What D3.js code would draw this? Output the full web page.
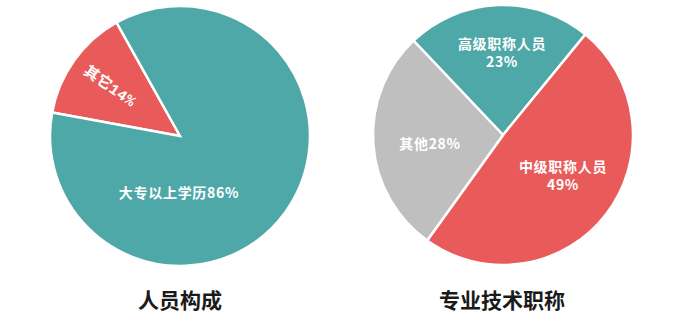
<!DOCTYPE html>
<html>
<head>
<meta charset="utf-8">
<script src="https://cdn.jsdelivr.net/npm/d3@7"></script>
<style>
    body { margin: 0; background: #fff; }
    svg { display: block; }
    .title { font-family: "Noto Sans CJK SC", sans-serif; font-weight: 700; font-size: 21px; fill: #1a1a1a; }
    .slice-label { font-family: "Noto Sans CJK SC", sans-serif; font-weight: 700; font-size: 14px; fill: #fff; letter-spacing: 0.7px; }
    .odd-label { font-family: "Liberation Mono", "Noto Sans CJK SC", monospace; font-weight: 700; font-size: 15px; fill: #fff; letter-spacing: 0.5px; }
</style>
</head>
<body>
<svg id="chart"></svg>
<script>
// 人员构成
const staffNames = ['其它', '大专以上学历'];
const staffValues = [14, 86];
// 专业技术职称
const titleNames = ['高级职称人员', '中级职称人员', '其他'];
const titleValues = [23, 49, 28];

const colors = { teal: '#4fa8a8', red: '#e85b5a', gray: '#bfbfbf' };

const W = 690, H = 323;
const radius = 130;

const svg = d3.select('#chart')
    .attr('width', W)
    .attr('height', H);

const arc = d3.arc().innerRadius(0).outerRadius(radius);
const deg = Math.PI / 180;

// 左边的饼
const staffPie = d3.pie()
    .sort(null)
    .startAngle(-79.6 * deg)
    .endAngle(280.4 * deg);

const left = svg.append('g')
    .attr('transform', 'translate(180,136)');

const staffArcs = staffPie(staffValues);

left.selectAll('path')
    .data(staffArcs)
    .enter()
    .append('path')
    .attr('d', arc)
    .attr('fill', (d, i) => i === 0 ? colors.red : colors.teal)
    .attr('stroke', '#fff')
    .attr('stroke-width', 2.5);

// 其它14% 斜着写
const oddArc = staffArcs[0];
const oddMid = (oddArc.startAngle + oddArc.endAngle) / 2;
const oddR = 86;
left.append('text')
    .attr('class', 'odd-label')
    .attr('text-anchor', 'middle')
    .attr('dy', '0.35em')
    .attr('transform', `translate(${Math.sin(oddMid) * oddR},${-Math.cos(oddMid) * oddR}) rotate(35)`)
    .text(staffNames[0] + staffValues[0] + '%');

// 大专以上学历86%
left.append('text')
    .attr('class', 'slice-label')
    .attr('text-anchor', 'middle')
    .attr('x', -1)
    .attr('y', 62)
    .text(staffNames[1] + staffValues[1] + '%');

left.append('text')
    .attr('class', 'title')
    .attr('text-anchor', 'middle')
    .attr('x', 0)
    .attr('y', 172)
    .text('人员构成');

// 右边的饼
const titlePie = d3.pie()
    .sort(null)
    .startAngle(-43.5 * deg)
    .endAngle(316.5 * deg);

const right = svg.append('g')
    .attr('transform', 'translate(503,135)');

const titleArcs = titlePie(titleValues);
const titleColors = [colors.teal, colors.red, colors.gray];

right.selectAll('path')
    .data(titleArcs)
    .enter()
    .append('path')
    .attr('d', arc)
    .attr('fill', (d, i) => titleColors[i])
    .attr('stroke', '#fff')
    .attr('stroke-width', 2.5);

// 标签位置
const labelPos = [
    { x: -1, y: -91, two: true },
    { x: 60, y: 32, two: true },
    { x: -73, y: 9, two: false }
];

titleArcs.forEach((d, i) => {
    const p = labelPos[i];
    const t = right.append('text')
        .attr('class', 'slice-label')
        .attr('text-anchor', 'middle')
        .attr('x', p.x)
        .attr('y', p.y)
        .attr('dy', '0.35em');
    if (p.two) {
        t.append('tspan').attr('x', p.x).text(titleNames[i]);
        t.append('tspan').attr('x', p.x).attr('dy', '1.3em').text(titleValues[i] + '%');
    } else {
        t.text(titleNames[i] + titleValues[i] + '%');
    }
});

right.append('text')
    .attr('class', 'title')
    .attr('text-anchor', 'middle')
    .attr('x', -1)
    .attr('y', 173)
    .text('专业技术职称');
</script>
</body>
</html>
